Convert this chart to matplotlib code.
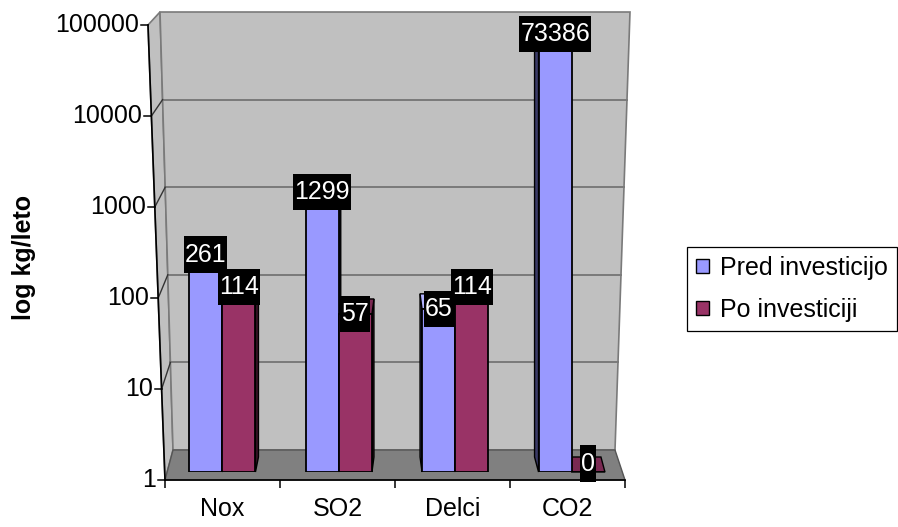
import numpy as np
import matplotlib.pyplot as plt
from matplotlib.patches import Polygon, Patch
from matplotlib.path import Path

categories = ["Nox", "SO2", "Delci", "CO2"]
pred = [261, 1299, 65, 73386]
po = [114, 57, 114, 0]
series_names = ["Pred investicijo", "Po investiciji"]
y_ticks = [1, 10, 100, 1000, 10000, 100000]

BLUE, RED = "#9999FF", "#993366"
BLUE_SIDE, RED_SIDE = "#3a3a66", "#3d1429"
BLUE_TOP, RED_TOP = "#b3b3ff", "#7a2952"
WALL, FLOOR, EDGE = "#C0C0C0", "#808080", "#7a7a7a"

W, H = 898, 527
FS = 18
plt.rcParams["font.family"] = ["Liberation Sans", "DejaVu Sans"]
plt.rcParams["font.size"] = FS

fig = plt.figure(figsize=(W / 100, H / 100), dpi=100)


def rect(x0, y0, x1, y1):
    # pixel box, origin top-left -> figure fraction
    return [x0 / W, 1 - y1 / H, (x1 - x0) / W, (y1 - y0) / H]


def to_px(axes, x, y):
    dx, dy = axes.transData.transform((x, y))
    return dx, H - dy


def label_box(x0, y0, width, height, mutation_size):
    # narrow at the sides, tall above and below the digits
    px, py = 0.04 * mutation_size, 0.25 * mutation_size
    x0, y0 = x0 - px, y0 - py
    x1, y1 = x0 + width + 2 * px, y0 + height + 2 * py
    return Path([(x0, y0), (x1, y0), (x1, y1), (x0, y1), (x0, y0)],
                [Path.MOVETO, Path.LINETO, Path.LINETO, Path.LINETO, Path.CLOSEPOLY])


# pixel canvas for the box walls and floor
scene = fig.add_axes([0, 0, 1, 1], zorder=0)
scene.set_xlim(0, W)
scene.set_ylim(H, 0)
scene.axis("off")

wall_tl, wall_tr, wall_br, wall_bl = (160, 12), (630, 12), (615, 450), (173, 450)
front_tl, front_bl, front_br = (148, 25), (165, 480), (625, 480)

scene.add_patch(Polygon([front_tl, wall_tl, wall_bl, front_bl], fc=WALL, ec=EDGE, lw=1.2))
scene.add_patch(Polygon([wall_tl, wall_tr, wall_br, wall_bl], fc=WALL, ec=EDGE, lw=1.2))
scene.add_patch(Polygon([wall_bl, wall_br, front_br, front_bl], fc=FLOOR, ec="#555555", lw=1))

# back wall scale
back = fig.add_axes(rect(173, 12, 615, 450), zorder=1)
back.set_yscale("log")
back.set_ylim(1, 1e5)
back.set_xlim(0, 1)
back.axis("off")

# front axis scale (ticks, categories)
front = fig.add_axes(rect(165, 25, 625, 480), zorder=2)
front.set_yscale("log")
front.set_ylim(1, 1e5)
front.set_xlim(-0.5, len(categories) - 0.5)
front.patch.set_alpha(0)
for s in ["left", "right", "top"]:
    front.spines[s].set_visible(False)
front.spines["bottom"].set_linewidth(1.2)
front.tick_params(axis="y", which="both", left=False, labelleft=False)
front.set_xticks(np.arange(len(categories) + 1) - 0.5)
front.set_xticklabels([])
front.set_xticks(np.arange(len(categories)), minor=True)
front.set_xticklabels(categories, minor=True)
front.tick_params(axis="x", which="major", length=6, width=1.1, direction="out")
front.tick_params(axis="x", which="minor", length=0, pad=12, labelsize=FS)

# bars
ax = fig.add_axes(rect(164, 22, 630, 472), zorder=3)
ax.set_yscale("log")
ax.set_ylim(1, 1e5)
ax.set_xlim(-0.5, len(categories) - 0.5)
ax.axis("off")

# gridlines across the back wall and the left side wall
for v in y_ticks:
    _, fy = to_px(front, -0.5, v)
    ft = (front_bl[1] - fy) / (front_bl[1] - front_tl[1])
    fx = front_bl[0] + (front_tl[0] - front_bl[0]) * ft
    _, by = to_px(back, 0, v)
    bt = (wall_bl[1] - by) / (wall_bl[1] - wall_tl[1])
    bxl = wall_bl[0] + (wall_tl[0] - wall_bl[0]) * bt
    bxr = wall_br[0] + (wall_tr[0] - wall_br[0]) * bt
    if 1 < v < 1e5:
        scene.plot([bxl, bxr], [by, by], color=EDGE, lw=1.4, zorder=2)
        scene.plot([fx, bxl], [fy, by], color="#333333", lw=1, zorder=2)
    scene.plot([fx - 7, fx], [fy, fy], color="black", lw=1.1, zorder=3)
    scene.text(fx - 9, fy, f"{v}", ha="right", va="center", fontsize=FS, zorder=3)

scene.plot([front_tl[0], front_bl[0]], [front_tl[1], front_bl[1]], color="black", lw=1.2, zorder=3)

x = np.arange(len(categories))
bw = 0.285
depth = 15
skew = [3, 2, -2, -4]

for vals, off, fc, side_c, top_c in [(pred, -bw / 2, BLUE, BLUE_SIDE, BLUE_TOP),
                                     (po, bw / 2, RED, RED_SIDE, RED_TOP)]:
    tops = [max(v, 1) for v in vals]
    ax.bar(x + off, [t - 1 for t in tops], bottom=1, width=bw, color=fc,
           edgecolor="black", linewidth=1.3)
    for i, t in enumerate(tops):
        x0, yb = to_px(ax, x[i] + off - bw / 2, 1)
        x1, yt = to_px(ax, x[i] + off + bw / 2, t)
        dx = skew[i]
        xe = x1 if dx > 0 else x0
        scene.add_patch(Polygon([(xe, yb), (xe, yt), (xe + dx, yt - depth), (xe + dx, yb - depth)],
                                fc=side_c, ec="black", lw=1, zorder=4))
        scene.add_patch(Polygon([(x0, yt), (x1, yt), (x1 + dx, yt - depth), (x0 + dx, yt - depth)],
                                fc=top_c, ec="black", lw=1, zorder=4))
        ax.annotate(f"{vals[i]}", (x[i] + off, t), xytext=(0, 0 if vals[i] >= 1 else 6),
                    textcoords="offset points", ha="center", va="center", color="white",
                    fontsize=FS, annotation_clip=False, zorder=10,
                    bbox=dict(boxstyle=label_box, fc="black", ec="none"))

handles = [Patch(facecolor=BLUE, edgecolor="black"), Patch(facecolor=RED, edgecolor="black")]
leg = fig.legend(handles, series_names, loc="upper left", bbox_to_anchor=(687 / W, 1 - 247 / H),
                 frameon=True, fancybox=False, edgecolor="black", framealpha=1,
                 borderpad=0.36, borderaxespad=0, handlelength=0.5, handleheight=0.5,
                 handletextpad=0.45, labelspacing=0.72, fontsize=FS)
leg.get_frame().set_linewidth(0.9)

fig.text(24 / W, 1 - 257 / H, "log kg/leto", rotation=90, fontweight="bold",
         fontsize=FS, ha="center", va="center")

fig.savefig("out.png", dpi=100)
